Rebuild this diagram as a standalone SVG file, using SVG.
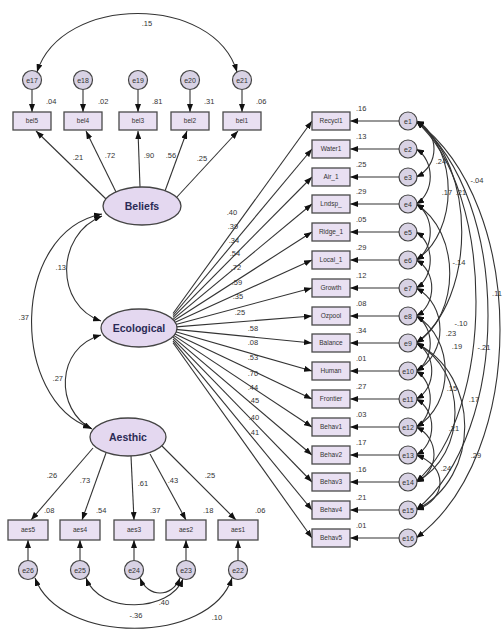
<svg xmlns="http://www.w3.org/2000/svg" width="504" height="634" viewBox="0 0 504 634">
<defs>
<marker id="ah" markerUnits="userSpaceOnUse" markerWidth="8" markerHeight="6" refX="8" refY="3" orient="auto-start-reverse"><path d="M0,0 L8,3 L0,6 z" fill="#111"/></marker>
</defs>
<style>
.box{fill:#e9e0f2;stroke:#4a4a4a;stroke-width:1.3}
.lat{fill:#e4d8f0;stroke:#444;stroke-width:1.3}
.err{fill:#d8d2e4;stroke:#444;stroke-width:1.2}
.c{fill:none;stroke:#333;stroke-width:1.1}
.a{marker-end:url(#ah)}
.d{marker-start:url(#ah);marker-end:url(#ah)}
text{font-family:"Liberation Sans",Arial,sans-serif;fill:#333}
.bt{font-size:6.5px;text-anchor:middle}
.et{font-size:7px;text-anchor:middle}
.n{font-size:7.5px}
.m{font-size:7.5px;text-anchor:middle}
.lt{font-size:10.5px;text-anchor:middle;fill:#2a2a55}
</style>
<rect width="504" height="634" fill="#fff"/>
<g id="connectors">
<!-- top covariance -->
<path class="c d" d="M37 72 C62 -6 214 -6 237 72"/>
<!-- error to bel -->
<line class="c a" x1="32" y1="89.5" x2="32" y2="112"/>
<line class="c a" x1="83" y1="89.5" x2="83" y2="112"/>
<line class="c a" x1="138" y1="89.5" x2="138" y2="112"/>
<line class="c a" x1="190" y1="89.5" x2="190" y2="112"/>
<line class="c a" x1="242" y1="89.5" x2="242" y2="112"/>
<!-- Beliefs loadings -->
<line class="c a" x1="106" y1="199" x2="36" y2="131"/>
<line class="c a" x1="116" y1="192" x2="86" y2="131"/>
<line class="c a" x1="140" y1="187" x2="138" y2="131"/>
<line class="c a" x1="165" y1="191" x2="187" y2="131"/>
<line class="c a" x1="176" y1="198" x2="238" y2="131"/>
<!-- latent covariances -->
<path class="c d" d="M102 216 C55 235 55 305 101 321"/>
<path class="c d" d="M102 214 C10 232 10 400 91 428"/>
<path class="c d" d="M101 335 C55 348 55 410 92 429"/>
<!-- Aesthic loadings -->
<line class="c a" x1="93" y1="448" x2="31" y2="520"/>
<line class="c a" x1="106" y1="453" x2="82" y2="520"/>
<line class="c a" x1="131" y1="456" x2="134" y2="520"/>
<line class="c a" x1="150" y1="454" x2="186" y2="520"/>
<line class="c a" x1="162" y1="446" x2="236" y2="520"/>
<!-- error to aes -->
<line class="c a" x1="28" y1="560.5" x2="28" y2="540"/>
<line class="c a" x1="80" y1="560.5" x2="80" y2="540"/>
<line class="c a" x1="134" y1="560.5" x2="134" y2="540"/>
<line class="c a" x1="186" y1="560.5" x2="186" y2="540"/>
<line class="c a" x1="238" y1="560.5" x2="238" y2="540"/>
<!-- bottom covariances -->
<path class="c d" d="M140 578 C148 598 172 598 180 578"/>
<path class="c d" d="M86 578 C100 615 170 612 183 579"/>
<path class="c d" d="M35 578 C60 645 210 645 232 578"/>
<!-- Ecological loadings -->
<line class="c a" x1="173" y1="313.5" x2="312" y2="121"/>
<line class="c a" x1="173" y1="315.5" x2="312" y2="149"/>
<line class="c a" x1="173" y1="317.4" x2="312" y2="177"/>
<line class="c a" x1="173" y1="319.4" x2="312" y2="204"/>
<line class="c a" x1="173" y1="321.3" x2="312" y2="232"/>
<line class="c a" x1="173" y1="323.2" x2="312" y2="260"/>
<line class="c a" x1="173" y1="325.2" x2="312" y2="288"/>
<line class="c a" x1="173" y1="327.1" x2="312" y2="316"/>
<line class="c a" x1="173" y1="329.1" x2="312" y2="343"/>
<line class="c a" x1="173" y1="331" x2="312" y2="371"/>
<line class="c a" x1="173" y1="333" x2="312" y2="399"/>
<line class="c a" x1="173" y1="334.9" x2="312" y2="427"/>
<line class="c a" x1="173" y1="336.9" x2="312" y2="455"/>
<line class="c a" x1="173" y1="338.8" x2="312" y2="482"/>
<line class="c a" x1="173" y1="340.8" x2="312" y2="510"/>
<line class="c a" x1="173" y1="342.7" x2="312" y2="538"/>
<!-- right errors to boxes -->
<line class="c a" x1="399" y1="121" x2="350" y2="121"/>
<line class="c a" x1="399" y1="149" x2="350" y2="149"/>
<line class="c a" x1="399" y1="177" x2="350" y2="177"/>
<line class="c a" x1="399" y1="204" x2="350" y2="204"/>
<line class="c a" x1="399" y1="232" x2="350" y2="232"/>
<line class="c a" x1="399" y1="260" x2="350" y2="260"/>
<line class="c a" x1="399" y1="288" x2="350" y2="288"/>
<line class="c a" x1="399" y1="316" x2="350" y2="316"/>
<line class="c a" x1="399" y1="343" x2="350" y2="343"/>
<line class="c a" x1="399" y1="371" x2="350" y2="371"/>
<line class="c a" x1="399" y1="399" x2="350" y2="399"/>
<line class="c a" x1="399" y1="427" x2="350" y2="427"/>
<line class="c a" x1="399" y1="455" x2="350" y2="455"/>
<line class="c a" x1="399" y1="482" x2="350" y2="482"/>
<line class="c a" x1="399" y1="510" x2="350" y2="510"/>
<line class="c a" x1="399" y1="538" x2="350" y2="538"/>
<!-- right error covariances -->
<path class="c d" d="M416 121 C440 132 440 166 416 177"/>
<path class="c d" d="M416 149 C435 160 435 193 416 204"/>
<path class="c d" d="M416 121 C459 149 459 232 416 260"/>
<path class="c d" d="M416 121 C477 165 477 299 416 343"/>
<path class="c d" d="M416 121 C496 193 496 410 416 482"/>
<path class="c d" d="M416 121 C512 199 512 432 416 510"/>
<path class="c d" d="M416 121 C528 204 528 455 416 538"/>
<path class="c d" d="M416 204 C435 215 435 249 416 260"/>
<path class="c d" d="M416 204 C461 232 461 315 416 343"/>
<path class="c d" d="M416 232 C435 243 435 277 416 288"/>
<path class="c d" d="M416 260 C437 271 437 305 416 316"/>
<path class="c d" d="M416 288 C448 305 448 354 416 371"/>
<path class="c d" d="M416 316 C435 327 435 360 416 371"/>
<path class="c d" d="M416 316 C455 338 455 405 416 427"/>
<path class="c d" d="M416 343 C437 354 437 388 416 399"/>
<path class="c d" d="M416 371 C435 382 435 416 416 427"/>
<path class="c d" d="M416 343 C468 371 468 454 416 482"/>
<path class="c d" d="M416 399 C437 410 437 444 416 455"/>
<path class="c d" d="M416 427 C440 438 440 471 416 482"/>
<path class="c d" d="M416 343 C481 376 481 477 416 510"/>
<path class="c d" d="M416 455 C448 466 448 499 416 510"/>
</g>
<g id="labels">
<text class="m" x="147" y="26">.15</text>
<text class="n" x="46" y="104">.04</text>
<text class="n" x="98" y="104">.02</text>
<text class="n" x="152" y="104">.81</text>
<text class="n" x="204" y="104">.31</text>
<text class="n" x="256" y="104">.06</text>
<text class="m" x="78" y="160">.21</text>
<text class="m" x="110" y="158">.72</text>
<text class="m" x="149" y="158">.90</text>
<text class="m" x="171" y="158">.56</text>
<text class="m" x="202" y="161">.25</text>
<text class="n" x="66" y="270" text-anchor="end">.13</text>
<text class="n" x="29" y="320" text-anchor="end">.37</text>
<text class="n" x="63" y="381" text-anchor="end">.27</text>
<text class="m" x="52" y="478">.26</text>
<text class="m" x="85" y="483">.73</text>
<text class="m" x="143" y="486">.61</text>
<text class="m" x="173" y="483">.43</text>
<text class="m" x="210" y="478">.25</text>
<text class="n" x="44" y="513">.08</text>
<text class="n" x="96" y="513">.54</text>
<text class="n" x="150" y="513">.37</text>
<text class="n" x="203" y="513">.18</text>
<text class="n" x="255" y="513">.06</text>
<text class="m" x="164" y="605">.40</text>
<text class="m" x="136" y="618">-.36</text>
<text class="m" x="217" y="620">.10</text>
<text class="m" x="232" y="215">.40</text>
<text class="m" x="233" y="229">.39</text>
<text class="m" x="234" y="243">.34</text>
<text class="m" x="235" y="256">.54</text>
<text class="m" x="236" y="270">.72</text>
<text class="m" x="237" y="285">.59</text>
<text class="m" x="238" y="299">.35</text>
<text class="m" x="240" y="315">.25</text>
<text class="m" x="253" y="331">.58</text>
<text class="m" x="253" y="345">.08</text>
<text class="m" x="253" y="360">.53</text>
<text class="m" x="253" y="376">.70</text>
<text class="m" x="253" y="390">.44</text>
<text class="m" x="254" y="403">.45</text>
<text class="m" x="254" y="420">.40</text>
<text class="m" x="254" y="435">.41</text>
<text class="n" x="356" y="111">.16</text>
<text class="n" x="356" y="139">.13</text>
<text class="n" x="356" y="167">.25</text>
<text class="n" x="356" y="194">.29</text>
<text class="n" x="356" y="222">.05</text>
<text class="n" x="356" y="250">.29</text>
<text class="n" x="356" y="278">.12</text>
<text class="n" x="356" y="306">.08</text>
<text class="n" x="356" y="333">.34</text>
<text class="n" x="356" y="361">.01</text>
<text class="n" x="356" y="389">.27</text>
<text class="n" x="356" y="417">.03</text>
<text class="n" x="356" y="445">.17</text>
<text class="n" x="356" y="472">.16</text>
<text class="n" x="356" y="500">.21</text>
<text class="n" x="356" y="528">.01</text>
<text class="m" x="441" y="164">.24</text>
<text class="m" x="477" y="183">-.04</text>
<text class="m" x="447" y="195">.17</text>
<text class="m" x="461" y="195">.21</text>
<text class="m" x="459" y="265">-.14</text>
<text class="m" x="497" y="296">.11</text>
<text class="m" x="461" y="326">-.10</text>
<text class="m" x="451" y="336">.23</text>
<text class="m" x="457" y="349">.19</text>
<text class="m" x="484" y="350">-.21</text>
<text class="m" x="452" y="391">.15</text>
<text class="m" x="474" y="402">.17</text>
<text class="m" x="454" y="431">.21</text>
<text class="m" x="476" y="458">.29</text>
<text class="m" x="446" y="471">.24</text>
</g>
<g id="e17"><circle class="err" cx="32" cy="80" r="9.5"/><text class="et" x="32" y="82.5">e17</text></g>
<g id="e18"><circle class="err" cx="83" cy="80" r="9.5"/><text class="et" x="83" y="82.5">e18</text></g>
<g id="e19"><circle class="err" cx="138" cy="80" r="9.5"/><text class="et" x="138" y="82.5">e19</text></g>
<g id="e20"><circle class="err" cx="190" cy="80" r="9.5"/><text class="et" x="190" y="82.5">e20</text></g>
<g id="e21"><circle class="err" cx="242" cy="80" r="9.5"/><text class="et" x="242" y="82.5">e21</text></g>
<g id="bel5"><rect class="box" x="13" y="112" width="38" height="18"/><text class="bt" x="32" y="123.3">bel5</text></g>
<g id="bel4"><rect class="box" x="64" y="112" width="38" height="18"/><text class="bt" x="83" y="123.3">bel4</text></g>
<g id="bel3"><rect class="box" x="119" y="112" width="38" height="18"/><text class="bt" x="138" y="123.3">bel3</text></g>
<g id="bel2"><rect class="box" x="171" y="112" width="38" height="18"/><text class="bt" x="190" y="123.3">bel2</text></g>
<g id="bel1"><rect class="box" x="223" y="112" width="38" height="18"/><text class="bt" x="242" y="123.3">bel1</text></g>
<g id="Beliefs"><ellipse class="lat" cx="142" cy="206" rx="39" ry="19"/><text class="lt" x="142" y="210" font-weight="bold">Beliefs</text></g>
<g id="Ecological"><ellipse class="lat" cx="139" cy="328" rx="38" ry="19"/><text class="lt" x="139" y="332" font-weight="bold">Ecological</text></g>
<g id="Aesthic"><ellipse class="lat" cx="128" cy="437" rx="38" ry="19"/><text class="lt" x="128" y="441" font-weight="bold">Aesthic</text></g>
<g id="aes5"><rect class="box" x="8" y="520" width="40" height="20"/><text class="bt" x="28" y="532.3">aes5</text></g>
<g id="aes4"><rect class="box" x="60" y="520" width="40" height="20"/><text class="bt" x="80" y="532.3">aes4</text></g>
<g id="aes3"><rect class="box" x="114" y="520" width="40" height="20"/><text class="bt" x="134" y="532.3">aes3</text></g>
<g id="aes2"><rect class="box" x="166" y="520" width="40" height="20"/><text class="bt" x="186" y="532.3">aes2</text></g>
<g id="aes1"><rect class="box" x="218" y="520" width="40" height="20"/><text class="bt" x="238" y="532.3">aes1</text></g>
<g id="e26"><circle class="err" cx="28" cy="570" r="9.5"/><text class="et" x="28" y="572.5">e26</text></g>
<g id="e25"><circle class="err" cx="80" cy="570" r="9.5"/><text class="et" x="80" y="572.5">e25</text></g>
<g id="e24"><circle class="err" cx="134" cy="570" r="9.5"/><text class="et" x="134" y="572.5">e24</text></g>
<g id="e23"><circle class="err" cx="186" cy="570" r="9.5"/><text class="et" x="186" y="572.5">e23</text></g>
<g id="e22"><circle class="err" cx="238" cy="570" r="9.5"/><text class="et" x="238" y="572.5">e22</text></g>
<g id="Recycl1"><rect class="box" x="312" y="112" width="38" height="18"/><text class="bt" x="331" y="123.3">Recycl1</text></g>
<g id="Water1"><rect class="box" x="312" y="140" width="38" height="18"/><text class="bt" x="331" y="151.3">Water1</text></g>
<g id="Air_1"><rect class="box" x="312" y="168" width="38" height="18"/><text class="bt" x="331" y="179.3">Air_1</text></g>
<g id="Lndsp_"><rect class="box" x="312" y="195" width="38" height="18"/><text class="bt" x="331" y="206.3">Lndsp_</text></g>
<g id="Ridge_1"><rect class="box" x="312" y="223" width="38" height="18"/><text class="bt" x="331" y="234.3">Ridge_1</text></g>
<g id="Local_1"><rect class="box" x="312" y="251" width="38" height="18"/><text class="bt" x="331" y="262.3">Local_1</text></g>
<g id="Growth"><rect class="box" x="312" y="279" width="38" height="18"/><text class="bt" x="331" y="290.3">Growth</text></g>
<g id="Ozpool"><rect class="box" x="312" y="307" width="38" height="18"/><text class="bt" x="331" y="318.3">Ozpool</text></g>
<g id="Balance"><rect class="box" x="312" y="334" width="38" height="18"/><text class="bt" x="331" y="345.3">Balance</text></g>
<g id="Human"><rect class="box" x="312" y="362" width="38" height="18"/><text class="bt" x="331" y="373.3">Human</text></g>
<g id="Frontier"><rect class="box" x="312" y="390" width="38" height="18"/><text class="bt" x="331" y="401.3">Frontier</text></g>
<g id="Behav1"><rect class="box" x="312" y="418" width="38" height="18"/><text class="bt" x="331" y="429.3">Behav1</text></g>
<g id="Behav2"><rect class="box" x="312" y="446" width="38" height="18"/><text class="bt" x="331" y="457.3">Behav2</text></g>
<g id="Behav3"><rect class="box" x="312" y="473" width="38" height="18"/><text class="bt" x="331" y="484.3">Behav3</text></g>
<g id="Behav4"><rect class="box" x="312" y="501" width="38" height="18"/><text class="bt" x="331" y="512.3">Behav4</text></g>
<g id="Behav5"><rect class="box" x="312" y="529" width="38" height="18"/><text class="bt" x="331" y="540.3">Behav5</text></g>
<g id="e1"><circle class="err" cx="408" cy="121" r="9"/><text class="et" x="408" y="123.5">e1</text></g>
<g id="e2"><circle class="err" cx="408" cy="149" r="9"/><text class="et" x="408" y="151.5">e2</text></g>
<g id="e3"><circle class="err" cx="408" cy="177" r="9"/><text class="et" x="408" y="179.5">e3</text></g>
<g id="e4"><circle class="err" cx="408" cy="204" r="9"/><text class="et" x="408" y="206.5">e4</text></g>
<g id="e5"><circle class="err" cx="408" cy="232" r="9"/><text class="et" x="408" y="234.5">e5</text></g>
<g id="e6"><circle class="err" cx="408" cy="260" r="9"/><text class="et" x="408" y="262.5">e6</text></g>
<g id="e7"><circle class="err" cx="408" cy="288" r="9"/><text class="et" x="408" y="290.5">e7</text></g>
<g id="e8"><circle class="err" cx="408" cy="316" r="9"/><text class="et" x="408" y="318.5">e8</text></g>
<g id="e9"><circle class="err" cx="408" cy="343" r="9"/><text class="et" x="408" y="345.5">e9</text></g>
<g id="e10"><circle class="err" cx="408" cy="371" r="9"/><text class="et" x="408" y="373.5">e10</text></g>
<g id="e11"><circle class="err" cx="408" cy="399" r="9"/><text class="et" x="408" y="401.5">e11</text></g>
<g id="e12"><circle class="err" cx="408" cy="427" r="9"/><text class="et" x="408" y="429.5">e12</text></g>
<g id="e13"><circle class="err" cx="408" cy="455" r="9"/><text class="et" x="408" y="457.5">e13</text></g>
<g id="e14"><circle class="err" cx="408" cy="482" r="9"/><text class="et" x="408" y="484.5">e14</text></g>
<g id="e15"><circle class="err" cx="408" cy="510" r="9"/><text class="et" x="408" y="512.5">e15</text></g>
<g id="e16"><circle class="err" cx="408" cy="538" r="9"/><text class="et" x="408" y="540.5">e16</text></g>
</svg>
